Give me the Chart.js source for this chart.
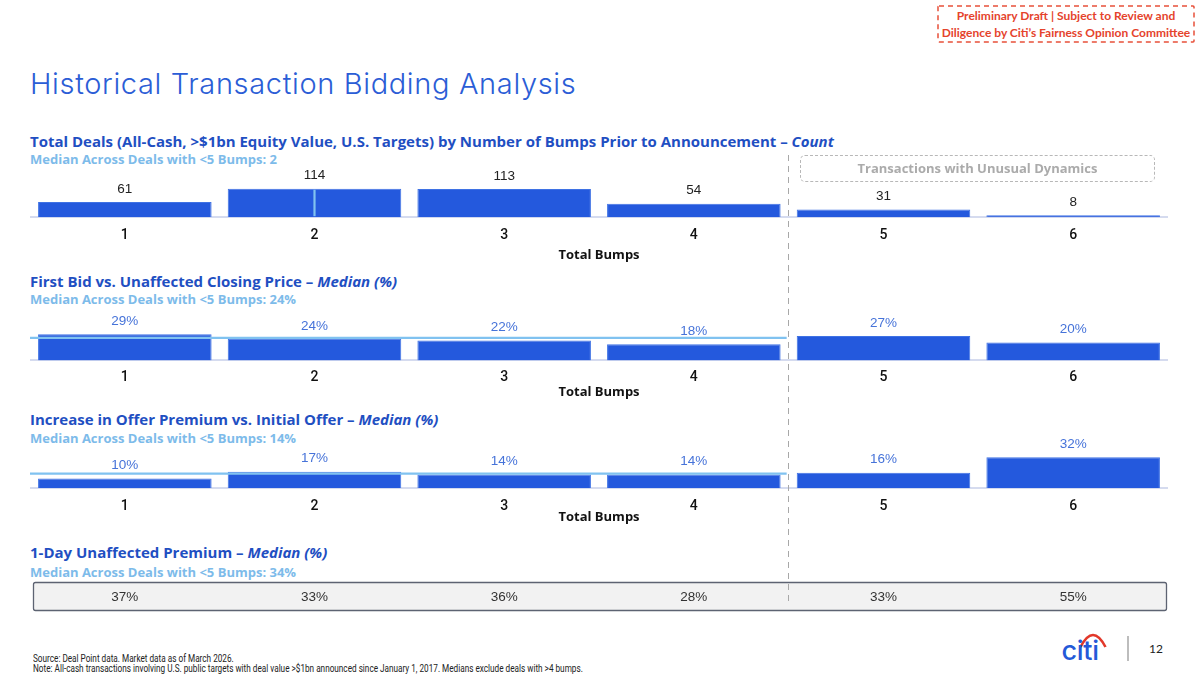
<!DOCTYPE html>
<html>
<head>
<meta charset="utf-8">
<script src="https://cdn.jsdelivr.net/npm/chart.js@4.4.1/dist/chart.umd.min.js"></script>
<style>
  body { margin: 0; width: 1200px; height: 675px; position: relative; background: #fff; overflow: hidden; }
  .abs { position: absolute; white-space: nowrap; }
  .draft { left: 937px; top: 5px; width: 258px; height: 38px;
           color: #e5432c; font: 700 12px/17px Lato, sans-serif; text-align: center; padding-top: 2px; box-sizing: border-box; }
  .draft svg { position: absolute; left: 0; top: 0; }
  .title { left: 30px; top: 66px; font: 300 29px/36px Inter, sans-serif; color: #2b5dd6; letter-spacing: 0.65px; }
  .head { left: 30px; font: 700 15px/20px "Open Sans", sans-serif; color: #1f4fc2; }
  .head i { font-style: italic; }
  .sub { left: 30px; font: 700 13px/16px "Open Sans", sans-serif; color: #7dbbea; }
  .box { position: absolute; left: 30px; width: 1138px; height: 130px; }
  .unusual { left: 800px; top: 155px; width: 355px; height: 27px; border: 1px dashed #b8b8b8; border-radius: 5px;
             box-sizing: border-box; color: #ababab; font: 700 13px/25px "Open Sans", sans-serif; text-align: center; z-index: 4; }
  .divider { position: absolute; width: 1.5px; top: 155px; height: 451px; z-index: 5;
             background: repeating-linear-gradient(to bottom, #a8a8a8 0 6px, transparent 6px 11px); }
  .foot { left: 33px; font: 400 10.5px/11px Roboto, sans-serif; color: #222; transform: scaleX(0.78); transform-origin: left center; }
  .pgline { left: 1127px; top: 636px; width: 1.5px; height: 25px; background: #bdbdbd; }
  .pg { left: 1149px; top: 641px; font: 400 12px/16px Lato, sans-serif; color: #222; }
</style>
</head>
<body>
<div class="abs draft">
  <svg width="258" height="38"><rect x="1" y="1" width="256" height="36" rx="1" fill="none" stroke="#e8503a" stroke-width="1.5" stroke-dasharray="5 4"/></svg>
  Preliminary Draft | Subject to Review and<br>Diligence by Citi’s Fairness Opinion Committee
</div>
<div class="abs title">Historical Transaction Bidding Analysis</div>

<div class="abs head" style="top:131px">Total Deals (All-Cash, &gt;$1bn Equity Value, U.S. Targets) by Number of Bumps Prior to Announcement – <i>Count</i></div>
<div class="abs sub" style="top:151px">Median Across Deals with &lt;5 Bumps: 2</div>
<div class="abs head" style="top:271px">First Bid vs. Unaffected Closing Price – <i>Median (%)</i></div>
<div class="abs sub" style="top:291px">Median Across Deals with &lt;5 Bumps: 24%</div>
<div class="abs head" style="top:409px">Increase in Offer Premium vs. Initial Offer – <i>Median (%)</i></div>
<div class="abs sub" style="top:430px">Median Across Deals with &lt;5 Bumps: 14%</div>
<div class="abs head" style="top:542px">1-Day Unaffected Premium – <i>Median (%)</i></div>
<div class="abs sub" style="top:564px">Median Across Deals with &lt;5 Bumps: 34%</div>

<div class="box" id="countBox"><canvas id="countChart"></canvas></div>
<div class="box" id="firstBidBox"><canvas id="firstBidChart"></canvas></div>
<div class="box" id="increaseBox"><canvas id="increaseChart"></canvas></div>
<div class="box" style="top:578px;height:38px"><canvas id="premiumChart"></canvas></div>

<div class="abs unusual">Transactions with Unusual Dynamics</div>
<div class="divider" id="divider"></div>

<div class="abs foot" style="top:653px">Source: Deal Point data. Market data as of March 2026.</div>
<div class="abs foot" style="top:663px">Note: All-cash transactions involving U.S. public targets with deal value &gt;$1bn announced since January 1, 2017. Medians exclude deals with &gt;4 bumps.</div>

<svg class="abs" style="left:1060px;top:630px" width="50" height="34" viewBox="0 0 50 34">
  <path d="M20.5 17 Q33 -7 45.5 17" fill="none" stroke="#e2382b" stroke-width="2.6"/>
  <text x="1.5" y="30" font-family="Inter, sans-serif" font-weight="500" font-size="27" fill="#2459d8" letter-spacing="-0.3">citi</text>
</svg>
<div class="abs pgline"></div>
<div class="abs pg">12</div>

<script>
// bump categories
const bumps = ["1", "2", "3", "4", "5", "6"];

// deal counts by number of bumps
const dealCounts = [61, 114, 113, 54, 31, 8];
const countMedian = 2;

// first bid vs unaffected close, median %
const firstBid = [29, 24, 22, 18, 27, 20];
const firstBidMedian = 24;

// increase in offer premium vs initial offer, median %
const increase = [10, 17, 14, 14, 16, 32];
const increaseMedian = 14;

// 1-day unaffected premium, median %
const premium = [37, 33, 36, 28, 33, 55];

const BAR = "#2459dd";
const MEDIAN = "#80c2f0";
const numFont = '"Liberation Sans", Arial, sans-serif';

const valueLabels = {
    id: "valueLabels",
    afterDatasetsDraw(chart, args, opts) {
        const ctx = chart.ctx;
        const meta = chart.getDatasetMeta(0);
        const data = chart.data.datasets[0].data;
        ctx.save();
        ctx.font = "13.5px " + numFont;
        ctx.fillStyle = opts.color;
        ctx.textAlign = "center";
        ctx.textBaseline = "middle";
        meta.data.forEach((bar, i) => {
            ctx.fillText(data[i] + opts.suffix, bar.x, bar.y - 13);
        });
        ctx.restore();
    }
};

const medianLine = {
    id: "medianLine",
    afterDatasetsDraw(chart, args, opts) {
        if (opts.value === undefined) return;
        const ctx = chart.ctx;
        const xs = chart.scales.x, ys = chart.scales.y;
        ctx.save();
        ctx.strokeStyle = MEDIAN;
        ctx.lineWidth = 2.2;
        ctx.beginPath();
        if (opts.vertical) {
            const idx = chart.data.labels.indexOf(String(opts.value));
            const bar = chart.getDatasetMeta(0).data[idx];
            ctx.moveTo(bar.x, bar.y + 1);
            ctx.lineTo(bar.x, ys.getPixelForValue(0) - 1);
        } else {
            // line stops at the divider between 4 and 5 bumps
            const y = ys.getPixelForValue(opts.value) - 1;
            const endX = (xs.getPixelForValue(3) + xs.getPixelForValue(4)) / 2 - 2;
            ctx.moveTo(chart.chartArea.left, y);
            ctx.lineTo(endX, y);
        }
        ctx.stroke();
        ctx.restore();
    }
};

// "Total Bumps" under the tick labels, at a set distance from the baseline
const axisName = {
    id: "axisName",
    afterDraw(chart, args, opts) {
        const ctx = chart.ctx;
        const a = chart.chartArea;
        ctx.save();
        ctx.font = 'bold 13px "Open Sans", sans-serif';
        ctx.fillStyle = "#111";
        ctx.textAlign = "center";
        ctx.textBaseline = "middle";
        ctx.fillText("Total Bumps", (a.left + a.right) / 2, a.bottom + opts.gap);
        ctx.restore();
    }
};

function barChart(boxId, id, values, opts) {
    const chart = new Chart(document.getElementById(id), {
        type: "bar",
        data: {
            labels: bumps,
            datasets: [{
                data: values,
                backgroundColor: BAR,
                borderColor: "#3f72e4",
                borderWidth: 1,
                categoryPercentage: 1,
                barPercentage: 0.915
            }]
        },
        options: {
            responsive: true,
            maintainAspectRatio: false,
            animation: false,
            layout: { padding: { top: 0, bottom: 24, left: 0, right: 0 } },
            plugins: {
                legend: { display: false },
                tooltip: { enabled: false },
                valueLabels: { color: opts.labelColor, suffix: opts.suffix },
                medianLine: { value: opts.median, vertical: opts.vertical },
                axisName: { gap: opts.nameGap }
            },
            scales: {
                y: { display: false, min: 0 },
                x: {
                    grid: { display: false, drawTicks: false },
                    border: { display: true, color: "#d5dbef", width: 2 },
                    ticks: {
                        color: "#111",
                        padding: opts.tickPad,
                        font: { family: "Roboto", weight: "500", size: 14, lineHeight: 1 }
                    }
                }
            }
        },
        plugins: [valueLabels, medianLine, axisName]
    });
    // put the baseline where it sits on the slide and size the value axis to it
    const a = chart.chartArea;
    document.getElementById(boxId).style.top = (opts.baseline - a.bottom) + "px";
    chart.options.scales.y.max = (a.bottom - a.top) / opts.pxPerUnit;
    chart.update();
    return chart;
}

const countChart = barChart("countBox", "countChart", dealCounts, {
    labelColor: "#222", suffix: "", median: countMedian, vertical: true,
    baseline: 217.3, pxPerUnit: 0.25, tickPad: 11.4, nameGap: 37.7
});
barChart("firstBidBox", "firstBidChart", firstBid, {
    labelColor: "#4673d9", suffix: "%", median: firstBidMedian, vertical: false,
    baseline: 360, pxPerUnit: 0.9, tickPad: 10.3, nameGap: 31.7
});
barChart("increaseBox", "increaseChart", increase, {
    labelColor: "#4673d9", suffix: "%", median: increaseMedian, vertical: false,
    baseline: 488.3, pxPerUnit: 0.96, tickPad: 11.5, nameGap: 29
});

// premium row: a boxed strip with one cell per bump category
const premiumRow = {
    id: "premiumRow",
    afterDraw(chart) {
        const ctx = chart.ctx;
        const xs = chart.scales.x;
        const a = chart.chartArea;
        ctx.save();
        ctx.beginPath();
        ctx.roundRect(a.left + 3.5, 4.5, a.right - a.left - 5, 28, 2);
        ctx.fillStyle = "#f2f2f2";
        ctx.fill();
        ctx.strokeStyle = "#5d6372";
        ctx.lineWidth = 1.3;
        ctx.stroke();
        ctx.font = "13.5px " + numFont;
        ctx.fillStyle = "#333";
        ctx.textAlign = "center";
        ctx.textBaseline = "middle";
        premium.forEach((v, i) => ctx.fillText(v + "%", xs.getPixelForValue(i), 19.5));
        ctx.restore();
    }
};

new Chart(document.getElementById("premiumChart"), {
    type: "bar",
    data: { labels: bumps, datasets: [] },
    options: {
        responsive: true,
        maintainAspectRatio: false,
        animation: false,
        plugins: { legend: { display: false }, tooltip: { enabled: false } },
        scales: {
            x: { display: false, offset: true },
            y: { display: false }
        }
    },
    plugins: [premiumRow]
});

// place the dashed divider between 4 and 5 bumps
const xs = countChart.scales.x;
const divX = 30 + (xs.getPixelForValue(3) + xs.getPixelForValue(4)) / 2;
document.getElementById("divider").style.left = (divX - 0.75) + "px";
</script>
</body>
</html>
